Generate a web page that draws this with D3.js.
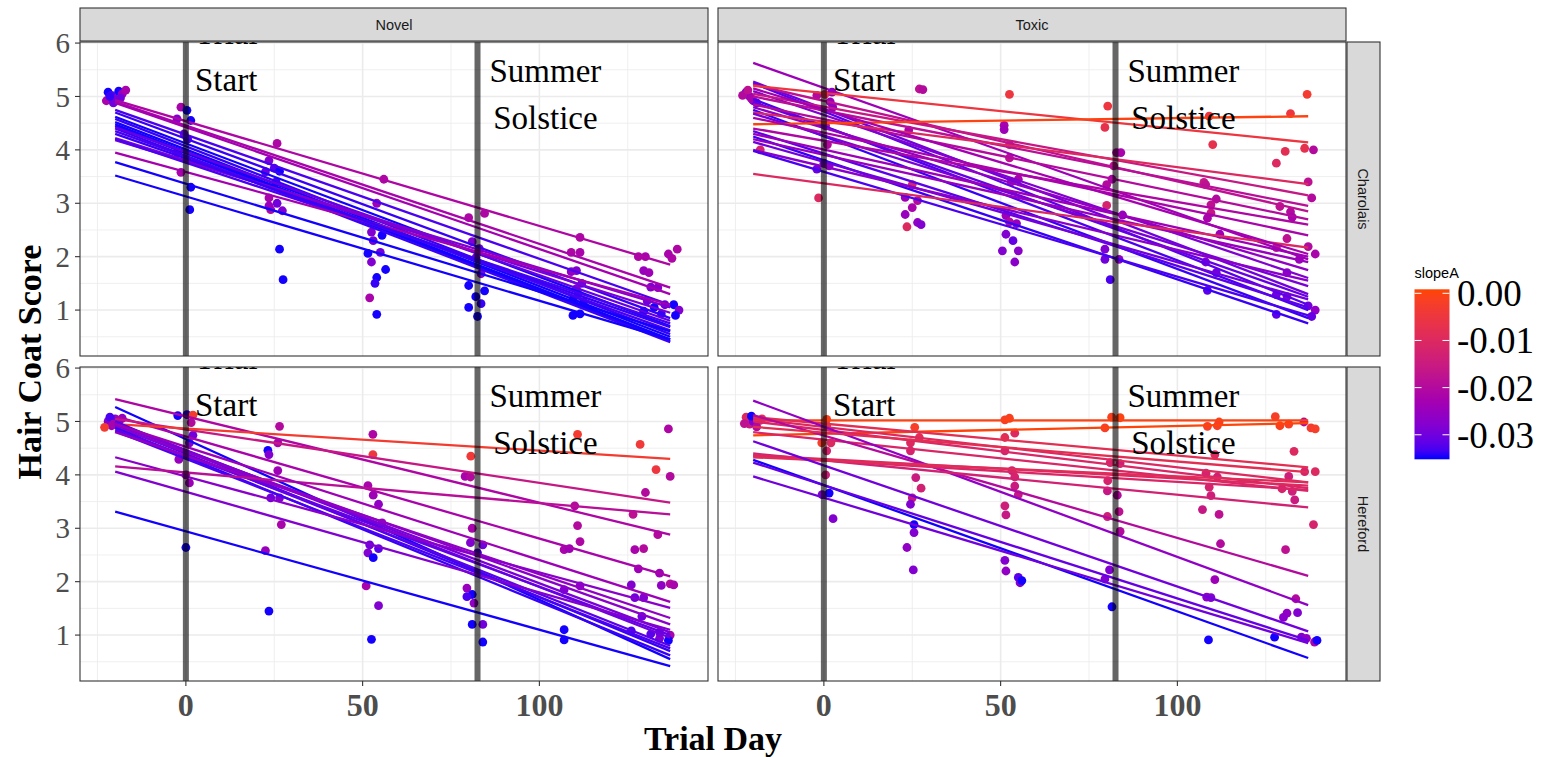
<!DOCTYPE html>
<html><head><meta charset="utf-8">
<script src="https://cdn.jsdelivr.net/npm/d3@7"></script>
<style>body{margin:0;background:#fff}svg{display:block}</style>
</head><body><svg id="chart" width="1543" height="757"></svg>
<script>
// ---------- data ----------
const colFacets = ["Novel", "Toxic"];
const rowFacets = ["Charolais", "Hereford"];
const xTicks = [0, 50, 100];
const xMinor = [-25, 25, 75, 125];
const yTicks = [1, 2, 3, 4, 5, 6];
const yMinor = [0.5, 1.5, 2.5, 3.5, 4.5, 5.5];
const legendTicks = [0, -0.01, -0.02, -0.03];
const eventDays = [0, 82.5];
const eventLabels = [["Trial", "Start"], ["Summer", "Solstice"]];
const eventLabelX = [11.4, 101.7];
const eventLabelY = [5.98, 5.27];   // baseline of first line (score units)
const fitDays = [-20, 137];          // day range of each fitted line

// fitted lines: [score at day -20, score at day 137, slopeA]
const linesNovelCharolais = [
  [4.93,1.85,-0.021],[4.90,1.42,-0.022],[4.88,1.30,-0.023],[4.75,1.10,-0.033],[4.70,0.85,-0.034],
  [4.62,0.70,-0.035],[4.58,0.55,-0.034],[4.52,0.50,-0.035],[4.48,0.45,-0.035],[4.45,0.42,-0.035],
  [4.40,0.40,-0.034],[4.35,0.62,-0.033],[4.42,0.80,-0.031],[4.22,0.95,-0.029],[4.18,1.05,-0.028],
  [4.20,0.75,-0.033],[3.95,1.10,-0.023],[3.77,0.60,-0.035],[3.52,0.45,-0.035],[4.30,0.68,-0.034]
];
const linesToxicCharolais = [
  [5.63,1.95,-0.024],[5.28,1.30,-0.030],[5.25,1.10,-0.032],[5.22,2.85,-0.018],[5.20,4.14,-0.005],
  [5.10,1.60,-0.028],[5.05,3.15,-0.016],[5.00,2.95,-0.019],[4.95,1.00,-0.033],[4.90,1.25,-0.031],
  [4.85,2.70,-0.020],[4.80,1.75,-0.026],[4.75,0.85,-0.034],[4.70,3.36,-0.010],[4.68,1.45,-0.029],
  [4.48,4.63,0.000],[4.40,2.60,-0.021],[4.35,1.05,-0.032],[4.30,2.00,-0.024],[4.25,0.75,-0.034],
  [4.20,1.90,-0.025],[4.15,1.20,-0.030],[4.00,1.55,-0.027],[3.98,0.90,-0.033],[3.55,2.17,-0.010],
  [4.60,2.40,-0.022],[5.15,2.05,-0.023]
];
const linesNovelHereford = [
  [5.42,2.88,-0.021],[5.27,0.55,-0.035],[5.10,2.10,-0.022],[5.05,3.48,-0.016],[4.95,4.30,-0.003],
  [5.00,0.70,-0.034],[4.98,0.95,-0.030],[4.95,1.05,-0.029],[4.92,0.80,-0.032],[4.90,1.20,-0.027],
  [4.88,0.62,-0.034],[4.85,1.00,-0.031],[4.82,0.75,-0.033],[4.80,1.32,-0.026],[4.33,1.51,-0.027],
  [4.16,3.26,-0.019],[4.06,1.10,-0.028],[3.31,0.42,-0.035],[4.95,1.62,-0.024]
];
const linesToxicHereford = [
  [5.02,5.02,0.000],[4.74,4.97,0.0005],[5.08,4.14,-0.008],[5.05,3.86,-0.010],[5.00,3.75,-0.011],
  [4.80,3.70,-0.011],[5.39,1.56,-0.026],[5.12,2.11,-0.020],[4.40,3.39,-0.013],[4.37,3.80,-0.010],
  [4.35,3.72,-0.011],[4.33,3.86,-0.009],[4.63,1.07,-0.030],[4.28,0.57,-0.035],[4.23,0.90,-0.031],
  [3.97,0.85,-0.030],[4.90,4.05,-0.008]
];

// observations: [day, score, slopeA]
const ptsNovelCharolais = [
  [-22,5.08,-0.035],[-21,5.02,-0.032],[-20,4.95,-0.028],[-19,5.1,-0.035],[-22.5,4.92,-0.022],[-18,5.05,-0.025],[-17,5.12,-0.022],[-20.5,4.88,-0.03],[-21.5,5.0,-0.034],[-18.5,4.97,-0.03],
  [-1.4,4.8,-0.022],[0.3,4.74,-0.035],[1.4,4.55,-0.035],[-2.5,4.58,-0.028],[-2.5,3.95,-0.022],[-1.4,3.58,-0.022],[1.4,3.3,-0.035],[1.1,2.88,-0.035],[-0.5,4.3,-0.03],[0.5,4.2,-0.032],
  [25.8,4.12,-0.021],[23.5,3.8,-0.028],[25,3.66,-0.032],[23.5,3.1,-0.022],[25.8,3.0,-0.03],[24,2.88,-0.021],[27.3,2.86,-0.028],[23.5,2.95,-0.025],[26.5,2.14,-0.035],[27.5,1.57,-0.035],[26.5,3.6,-0.035],[22.5,3.59,-0.03],[25.5,3.4,-0.033],
  [56,3.45,-0.021],[54,3.0,-0.024],[52.5,2.46,-0.028],[55.5,2.4,-0.035],[51.5,2.06,-0.035],[55,2.08,-0.03],[56.5,1.76,-0.035],[54,1.61,-0.035],[53.5,1.5,-0.034],[52,1.23,-0.022],[54,0.92,-0.035],[53,2.3,-0.03],[52.5,1.9,-0.028],
  [80,2.73,-0.021],[84.5,2.81,-0.021],[81,2.28,-0.028],[83,2.15,-0.03],[82,1.98,-0.03],[80,1.46,-0.035],[82,1.25,-0.035],[80,1.05,-0.035],[83.5,1.12,-0.034],[82.5,0.88,-0.035],[84.5,1.36,-0.035],[83.5,1.68,-0.028],
  [109,2.08,-0.021],[111.5,2.08,-0.022],[111.5,2.36,-0.021],[110.5,1.74,-0.028],[109,1.72,-0.026],[112,1.5,-0.03],[110.5,1.4,-0.028],[109.5,1.2,-0.035],[112.5,1.15,-0.034],[109.5,0.9,-0.035],[111.5,0.93,-0.035],[111,1.3,-0.032],
  [128,2.0,-0.021],[130,2.0,-0.022],[137.5,1.97,-0.021],[139,2.14,-0.021],[136.5,2.05,-0.022],[129.5,1.74,-0.025],[131,1.7,-0.024],[131.5,1.43,-0.028],[133.5,1.42,-0.027],[130.5,1.17,-0.03],[135.5,1.1,-0.03],[132.5,1.05,-0.035],[138,1.1,-0.035],[139.5,1.0,-0.028],[138.5,0.9,-0.035],[129.5,0.98,-0.035],[134.5,0.93,-0.034]
];
const ptsToxicCharolais = [
  [-22,5.08,-0.03],[-21,5.0,-0.025],[-20,4.92,-0.028],[-23,5.02,-0.02],[-19,4.88,-0.032],[-21.5,5.12,-0.018],[-18,4.0,-0.012],[-20.5,4.96,-0.022],
  [-1.5,3.1,-0.01],[-2,5.02,-0.02],[0.3,5.04,-0.008],[2.3,5.08,-0.028],[1.8,4.9,-0.024],[2.5,4.8,-0.026],[1,4.1,-0.02],[-2,3.64,-0.03],[0,3.75,-0.028],[1.5,3.7,-0.025],[0.5,4.45,-0.02],
  [27,5.14,-0.018],[28,5.13,-0.02],[24,4.37,-0.022],[25,3.35,-0.012],[23,3.11,-0.024],[26.5,3.05,-0.02],[25,2.92,-0.022],[23,2.79,-0.025],[23.5,2.56,-0.01],[26.5,2.64,-0.026],[27.5,2.6,-0.028],
  [52.5,5.04,-0.005],[51,4.46,-0.022],[51,4.38,-0.024],[52.5,4.1,-0.015],[52.5,3.85,-0.018],[53,3.4,-0.02],[55,3.45,-0.022],[51.5,2.77,-0.024],[52.5,2.65,-0.02],[54.5,2.62,-0.025],[51.5,2.42,-0.028],[53.5,2.3,-0.031],[50.5,2.11,-0.028],[55,2.11,-0.027],[54,1.9,-0.027],
  [80.3,4.82,-0.005],[79.5,4.42,-0.007],[82.8,3.95,-0.02],[84,3.95,-0.022],[82,3.7,-0.018],[81.5,3.45,-0.022],[80,3.35,-0.02],[80,2.96,-0.012],[84.5,2.78,-0.025],[79.5,2.14,-0.028],[79.5,1.95,-0.03],[83.5,1.95,-0.026],[81,1.57,-0.033],
  [109,4.63,-0.005],[110,4.1,-0.007],[107.5,3.39,-0.016],[108,3.35,-0.018],[111,3.08,-0.02],[109.5,2.97,-0.018],[109.5,2.82,-0.016],[108.5,2.72,-0.022],[112,2.42,-0.024],[108,1.9,-0.028],[111,1.7,-0.03],[108.5,1.37,-0.032],
  [136.7,5.04,-0.003],[132,4.68,-0.005],[130.5,3.97,-0.008],[128,3.75,-0.01],[136,4.03,-0.007],[138.5,4.0,-0.02],[137,3.4,-0.018],[138,3.1,-0.02],[129,2.94,-0.018],[132,2.84,-0.02],[132.5,2.74,-0.022],[131,2.34,-0.018],[128,2.17,-0.016],[137,2.19,-0.02],[139,2.05,-0.022],[134.5,1.95,-0.024],[131,1.7,-0.026],[128,1.29,-0.03],[131,1.25,-0.028],[137,1.08,-0.03],[139,1.0,-0.026],[138,0.88,-0.031],[128,0.92,-0.032]
];
const ptsNovelHereford = [
  [-22,5.0,-0.028],[-21,4.92,-0.024],[-20,5.05,-0.03],[-23,4.89,-0.003],[-19,4.98,-0.025],[-18,5.06,-0.026],[-21.5,5.08,-0.033],[-20.5,4.95,-0.022],
  [-2.3,5.11,-0.035],[0.3,5.13,-0.034],[2,5.12,-0.003],[1.5,4.98,-0.02],[2,4.74,-0.03],[1,4.6,-0.028],[-2,4.29,-0.025],[0,4.0,-0.022],[1,3.85,-0.024],[0,2.64,-0.035],
  [26.5,4.91,-0.02],[23.2,4.46,-0.035],[26,4.6,-0.022],[23.5,4.38,-0.028],[26,4.08,-0.024],[24,3.57,-0.03],[26.5,3.57,-0.028],[27,3.07,-0.022],[22.5,2.58,-0.025],[23.5,1.45,-0.035],
  [52.9,4.76,-0.021],[52.9,4.38,-0.005],[51.5,3.8,-0.022],[53,3.62,-0.024],[54.5,3.45,-0.026],[55.5,3.1,-0.025],[52,2.69,-0.03],[51.5,2.54,-0.028],[53,2.45,-0.035],[54.5,2.62,-0.032],[51,1.92,-0.022],[54.5,1.55,-0.028],[52.5,0.92,-0.035],
  [80.6,4.35,-0.004],[79,3.97,-0.022],[80.5,3.96,-0.02],[81,3.0,-0.022],[80.5,2.73,-0.028],[84,2.69,-0.03],[82.5,2.54,-0.033],[79.5,1.88,-0.025],[81,1.76,-0.035],[79.5,1.72,-0.033],[81.5,1.6,-0.026],[81,1.2,-0.035],[84,1.2,-0.03],[84,0.87,-0.035],
  [110.8,4.76,-0.003],[110,3.42,-0.02],[110.8,3.05,-0.02],[111.5,2.75,-0.021],[107,2.6,-0.022],[108.5,2.62,-0.024],[111.5,1.92,-0.026],[107,1.85,-0.028],[107,1.1,-0.035],[107,0.91,-0.035],
  [128.5,4.57,-0.004],[136.5,4.86,-0.021],[133,4.1,-0.005],[137,3.97,-0.02],[130,3.67,-0.02],[126.5,3.26,-0.018],[133.5,2.88,-0.02],[127,2.6,-0.022],[129.5,2.62,-0.02],[128,2.24,-0.024],[134,2.16,-0.024],[126,1.94,-0.028],[134.5,1.93,-0.026],[137,1.96,-0.02],[138,1.94,-0.022],[127,1.7,-0.03],[129.5,1.7,-0.028],[129,1.35,-0.03],[126,1.08,-0.033],[131.5,1.02,-0.032],[134,0.94,-0.028],[137,1.0,-0.022],[136.5,0.9,-0.035],[134,1.05,-0.03]
];
const ptsToxicHereford = [
  [-22,5.08,-0.01],[-21,4.95,-0.015],[-20,5.0,-0.028],[-18,5.02,-0.012],[-19,4.9,-0.02],[-22.5,4.96,-0.018],[-17.5,5.05,-0.008],[-20.5,5.1,-0.035],
  [0.8,5.04,-0.001],[0.8,4.92,-0.005],[-0.6,4.6,-0.002],[2,4.6,-0.01],[0.8,4.45,-0.012],[0.5,4.0,-0.014],[-0.5,3.63,-0.028],[1.5,3.66,-0.035],[2.6,3.18,-0.028],
  [25.7,4.89,-0.002],[27,4.7,-0.008],[24.5,4.6,-0.01],[24.5,4.45,-0.012],[26,3.95,-0.015],[27.5,3.75,-0.013],[25,3.57,-0.016],[24.5,3.45,-0.028],[25.5,3.07,-0.035],[25.5,2.92,-0.028],[23.5,2.64,-0.026],[25.3,2.22,-0.028],
  [51.2,5.03,-0.002],[52.5,5.06,-0.001],[51.2,4.7,-0.008],[54,4.78,-0.01],[51.2,4.45,-0.012],[53.2,4.08,-0.014],[54,3.96,-0.012],[54,3.79,-0.015],[55,3.63,-0.016],[51.2,3.42,-0.014],[51.5,3.25,-0.016],[51.2,2.4,-0.028],[51.5,2.2,-0.026],[55,2.08,-0.032],[55.5,1.98,-0.028],[56,2.02,-0.035],
  [81.4,5.08,-0.001],[83.8,5.07,0.0],[79.5,4.88,-0.002],[81,4.23,-0.012],[83.8,4.21,-0.014],[80.3,3.89,-0.012],[80.2,3.7,-0.016],[83,3.62,-0.02],[80.2,3.22,-0.014],[83.5,3.31,-0.018],[83.8,2.94,-0.02],[80.8,2.22,-0.028],[79.5,2.05,-0.028],[81.5,1.53,-0.035],
  [108.5,4.91,-0.002],[111.8,4.99,-0.001],[111.3,4.92,-0.002],[110.6,4.38,-0.01],[108.1,4.03,-0.012],[111.3,3.96,-0.013],[109,3.77,-0.012],[109.5,3.61,-0.014],[107.1,3.35,-0.016],[111.8,3.26,-0.018],[112.2,2.71,-0.02],[110.6,2.04,-0.024],[108.3,1.71,-0.026],[109.5,1.7,-0.028],[108.8,0.91,-0.035],
  [127.7,5.09,-0.002],[129,4.92,-0.001],[131.5,4.95,-0.002],[135.8,4.99,-0.02],[137.8,4.88,-0.003],[139,4.86,-0.002],[133,4.44,-0.01],[136,4.06,-0.012],[139,4.06,-0.01],[131.5,3.97,-0.014],[129.6,3.74,-0.012],[132.5,3.69,-0.014],[133.2,3.53,-0.015],[138.5,3.07,-0.012],[130.6,2.6,-0.018],[133.5,1.68,-0.02],[131,1.41,-0.026],[134,1.42,-0.028],[130,1.33,-0.027],[135.1,0.96,-0.028],[136.5,0.94,-0.026],[138.8,0.87,-0.022],[139.5,0.9,-0.035],[127.5,0.96,-0.035]
];

// ---------- layout ----------
const svg = d3.select("#chart");
const serif = "'Liberation Serif','Times New Roman',serif";
const sans = "'Liberation Sans',Arial,sans-serif";
const panelX0 = [80, 718], panelW = 628;
const panelY0 = [42, 367], panelH = 314;
const stripTop = 8, stripRight = 1347, stripSize = 33;
const xDomain = [-29.95, 147.7], yDomain = [0.14, 6.02];
const slopeDomain = [-0.0352, 0.00085];

const color = d3.scaleLinear().domain(slopeDomain).range(["#0000FF", "#FF4500"]).interpolate(d3.interpolateLab);

const panels = [
  {c:0, r:0, lines: linesNovelCharolais, pts: ptsNovelCharolais},
  {c:1, r:0, lines: linesToxicCharolais, pts: ptsToxicCharolais},
  {c:0, r:1, lines: linesNovelHereford, pts: ptsNovelHereford},
  {c:1, r:1, lines: linesToxicHereford, pts: ptsToxicHereford}
];

const defs = svg.append("defs");

panels.forEach((p, i) => {
  const x = d3.scaleLinear().domain(xDomain).range([0, panelW]);
  const y = d3.scaleLinear().domain(yDomain).range([panelH, 0]);
  const g = svg.append("g").attr("transform", `translate(${panelX0[p.c]},${panelY0[p.r]})`);
  defs.append("clipPath").attr("id", "clip" + i).append("rect").attr("width", panelW).attr("height", panelH);
  g.append("rect").attr("width", panelW).attr("height", panelH).attr("fill", "#fff");
  // grid
  const grid = g.append("g");
  xMinor.forEach(v => grid.append("line").attr("x1", x(v)).attr("x2", x(v)).attr("y1", 0).attr("y2", panelH).attr("stroke", "#EBEBEB").attr("stroke-width", 0.8));
  yMinor.filter(v => v > yDomain[0]).forEach(v => grid.append("line").attr("y1", y(v)).attr("y2", y(v)).attr("x1", 0).attr("x2", panelW).attr("stroke", "#EBEBEB").attr("stroke-width", 0.8));
  xTicks.forEach(v => grid.append("line").attr("x1", x(v)).attr("x2", x(v)).attr("y1", 0).attr("y2", panelH).attr("stroke", "#EBEBEB").attr("stroke-width", 1.6));
  yTicks.forEach(v => grid.append("line").attr("y1", y(v)).attr("y2", y(v)).attr("x1", 0).attr("x2", panelW).attr("stroke", "#EBEBEB").attr("stroke-width", 1.6));

  const inner = g.append("g").attr("clip-path", `url(#clip${i})`);
  // points
  inner.selectAll("circle.pt").data(p.pts).join("circle")
    .attr("cx", d => x(d[0])).attr("cy", d => y(d[1])).attr("r", 4.4)
    .attr("fill", d => color(d[2]));
  // fitted lines
  inner.selectAll("line.fit").data(p.lines).join("line")
    .attr("x1", x(fitDays[0])).attr("x2", x(fitDays[1]))
    .attr("y1", d => y(d[0])).attr("y2", d => y(d[1]))
    .attr("stroke", d => color(d[2])).attr("stroke-width", 2.3);
  // event lines
  eventDays.forEach(v => inner.append("line").attr("x1", x(v)).attr("x2", x(v)).attr("y1", 0).attr("y2", panelH)
    .attr("stroke", "#000").attr("stroke-opacity", 0.6).attr("stroke-width", 6));
  // event labels
  eventLabels.forEach((lab, k) => {
    lab.forEach((t, j) => inner.append("text").attr("x", x(eventLabelX[k])).attr("y", y(eventLabelY[k]) + j * 47)
      .attr("text-anchor", "middle").attr("font-family", serif).attr("font-size", 33).attr("fill", "#000").text(t));
  });
  // border
  g.append("rect").attr("width", panelW).attr("height", panelH).attr("fill", "none").attr("stroke", "#333").attr("stroke-width", 1.1);

  // y axis
  if (p.c === 0) {
    yTicks.forEach(v => {
      svg.append("line").attr("x1", panelX0[0] - 5).attr("x2", panelX0[0]).attr("y1", panelY0[p.r] + y(v)).attr("y2", panelY0[p.r] + y(v)).attr("stroke", "#333").attr("stroke-width", 1.1);
      svg.append("text").attr("x", panelX0[0] - 10).attr("y", panelY0[p.r] + y(v)).attr("dy", "0.35em")
        .attr("text-anchor", "end").attr("font-family", serif).attr("font-size", 29).attr("fill", "#4D4D4D").text(v);
    });
  }
  // x axis
  if (p.r === 1) {
    xTicks.forEach(v => {
      const px = panelX0[p.c] + x(v), by = panelY0[1] + panelH;
      svg.append("line").attr("x1", px).attr("x2", px).attr("y1", by).attr("y2", by + 5).attr("stroke", "#333").attr("stroke-width", 1.1);
      svg.append("text").attr("x", px).attr("y", 716).attr("text-anchor", "middle").attr("font-family", serif)
        .attr("font-weight", "bold").attr("font-size", 32).attr("fill", "#4D4D4D").text(v);
    });
  }
});

// strips (top)
colFacets.forEach((f, c) => {
  svg.append("rect").attr("x", panelX0[c]).attr("y", stripTop).attr("width", panelW).attr("height", stripSize)
    .attr("fill", "#D9D9D9").attr("stroke", "#333").attr("stroke-width", 1.1);
  svg.append("text").attr("x", panelX0[c] + panelW / 2).attr("y", stripTop + stripSize / 2).attr("dy", "0.35em")
    .attr("text-anchor", "middle").attr("font-family", sans).attr("font-size", 14.5).attr("fill", "#1A1A1A").text(f);
});
// strips (right)
rowFacets.forEach((f, r) => {
  svg.append("rect").attr("x", stripRight).attr("y", panelY0[r]).attr("width", stripSize).attr("height", panelH)
    .attr("fill", "#D9D9D9").attr("stroke", "#333").attr("stroke-width", 1.1);
  svg.append("text").attr("transform", `translate(${stripRight + stripSize / 2},${panelY0[r] + panelH / 2}) rotate(90)`)
    .attr("dy", "0.35em").attr("text-anchor", "middle").attr("font-family", sans).attr("font-size", 14.5).attr("fill", "#1A1A1A").text(f);
});

// axis titles
svg.append("text").attr("transform", "translate(29,362) rotate(-90)").attr("dy", "0.35em").attr("text-anchor", "middle")
  .attr("font-family", serif).attr("font-weight", "bold").attr("font-size", 34).attr("fill", "#000").text("Hair Coat Score");
svg.append("text").attr("x", 713).attr("y", 750).attr("text-anchor", "middle")
  .attr("font-family", serif).attr("font-weight", "bold").attr("font-size", 34).attr("fill", "#000").text("Trial Day");

// legend
const lgX = 1414.5, lgW = 35, lgTop = 289.3, lgBot = 459.3;
const ly = d3.scaleLinear().domain(slopeDomain).range([lgBot, lgTop]);
const grad = defs.append("linearGradient").attr("id", "lg").attr("x1", 0).attr("x2", 0).attr("y1", 1).attr("y2", 0);
d3.range(0, 1.0001, 0.05).forEach(t => grad.append("stop").attr("offset", t)
  .attr("stop-color", color(slopeDomain[0] + t * (slopeDomain[1] - slopeDomain[0]))));
svg.append("rect").attr("x", lgX).attr("y", lgTop).attr("width", lgW).attr("height", lgBot - lgTop).attr("fill", "url(#lg)");
legendTicks.forEach(v => {
  const yy = ly(v);
  svg.append("line").attr("x1", lgX).attr("x2", lgX + 7).attr("y1", yy).attr("y2", yy).attr("stroke", "#fff").attr("stroke-width", 1);
  svg.append("line").attr("x1", lgX + lgW - 7).attr("x2", lgX + lgW).attr("y1", yy).attr("y2", yy).attr("stroke", "#fff").attr("stroke-width", 1);
  svg.append("text").attr("x", 1457).attr("y", yy).attr("dy", "0.35em").attr("font-family", serif).attr("font-size", 37)
    .attr("fill", "#000").text(v.toFixed(2));
});
svg.append("text").attr("x", lgX).attr("y", 278).attr("font-family", sans).attr("font-size", 14.5).attr("fill", "#000").text("slopeA");
</script></body></html>
